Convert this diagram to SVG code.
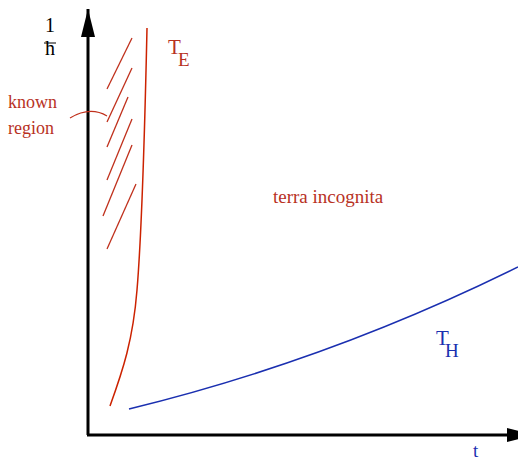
<svg xmlns="http://www.w3.org/2000/svg" width="518" height="459" viewBox="0 0 518 459">
<style>
text{font-family:"Liberation Serif","Times New Roman",serif}
.red{fill:#b8321f}
.blue{fill:#1a2fb0}
.axis{stroke:#000;stroke-width:3;fill:none}
.hatch{stroke:#c0301c;stroke-width:1.3;fill:none}
</style>
<defs>
<marker id="arr" markerUnits="userSpaceOnUse" markerWidth="30" markerHeight="16" refX="28" refY="7" orient="auto">
<path d="M0,0 L28,7 L0,14 Z" fill="#000"/>
</marker>
</defs>
<rect width="518" height="459" fill="#fff"/>
<g id="axes">
<path class="axis" d="M88,435 L88,9" marker-end="url(#arr)"/>
<path class="axis" d="M87,435 L535,435" marker-end="url(#arr)"/>
</g>
<g id="connectors">
<path id="TE-curve" d="M147,28 C145,120 142,230 137,290 C133,340 123,370 110,406" stroke="#cc2200" stroke-width="1.5" fill="none"/>
<path id="TH-curve" d="M129,409 Q330,360 518,267" stroke="#1a2fb0" stroke-width="1.5" fill="none"/>
<g id="hatching" class="hatch">
<line x1="132" y1="38" x2="107" y2="89"/>
<line x1="132" y1="68" x2="107" y2="122"/>
<line x1="128" y1="97" x2="107" y2="147"/>
<line x1="132" y1="119" x2="107" y2="180"/>
<line x1="132" y1="145" x2="103" y2="216"/>
<line x1="136" y1="184" x2="107" y2="249"/>
</g>
<path id="known-arc" d="M70,118 Q90,106 107,116" stroke="#c0301c" stroke-width="1.2" fill="none"/>
</g>
<g id="ylabel">
<text x="50" y="32" font-size="20" text-anchor="middle">1</text>
<line x1="44" y1="43" x2="56" y2="43" stroke="#000" stroke-width="1"/>
<text x="50" y="55" font-size="20" text-anchor="middle">h</text>
</g>
<g id="known-region">
<text class="red" x="8" y="108" font-size="18">known</text>
<text class="red" x="8" y="134" font-size="18">region</text>
</g>
<g id="TE">
<text class="red" x="168" y="54" font-size="21">T</text>
<text class="red" x="178" y="66" font-size="19">E</text>
</g>
<g id="terra">
<text class="red" x="273" y="203" font-size="19">terra incognita</text>
</g>
<g id="TH">
<text class="blue" x="436" y="345" font-size="21">T</text>
<text class="blue" x="445" y="357" font-size="19">H</text>
</g>
<g id="tlabel">
<text class="blue" x="473" y="457" font-size="19">t</text>
</g>
</svg>
